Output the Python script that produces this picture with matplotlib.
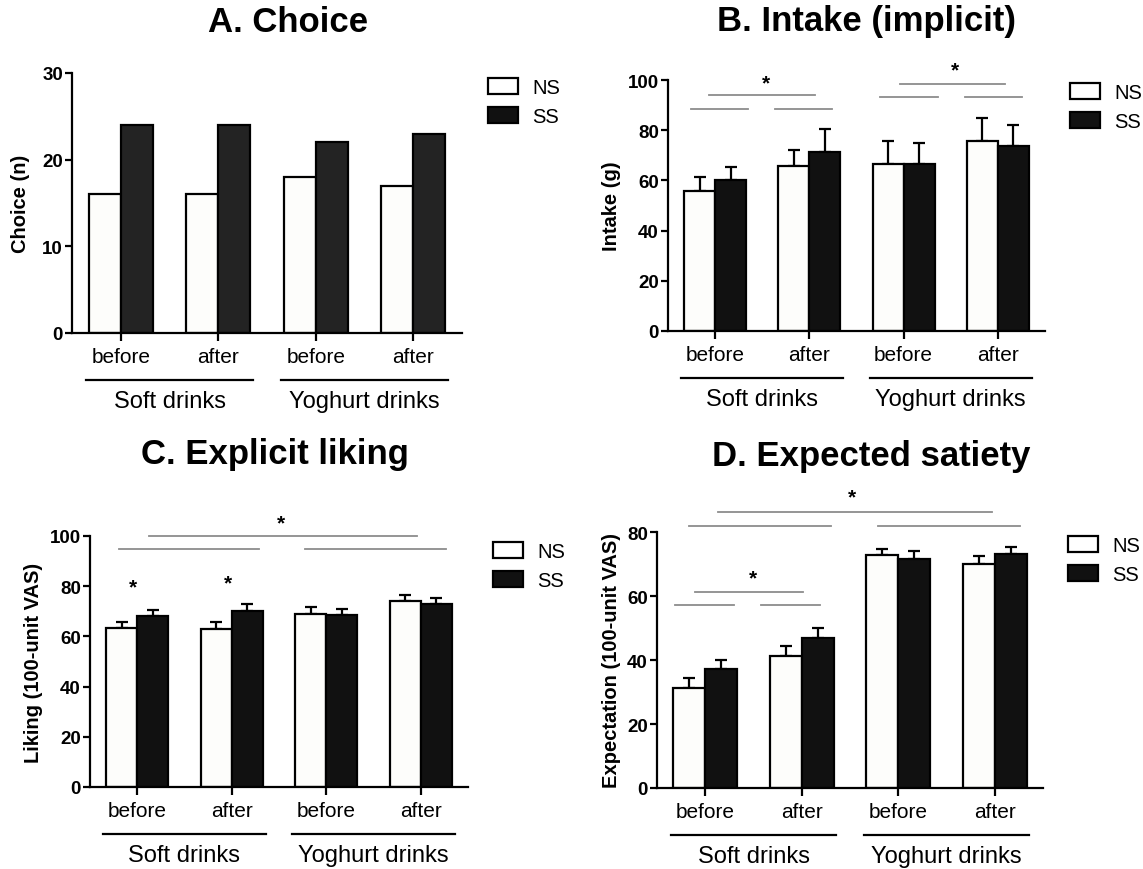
import matplotlib
matplotlib.use("Agg")
import matplotlib.pyplot as plt
import matplotlib.transforms as mtransforms
from matplotlib.patches import Patch
import numpy as np

plt.rcParams['font.family'] = ['Liberation Sans', 'DejaVu Sans']

# ---- data ----
conditions = ["before", "after", "before", "after"]
groups = ["Soft drinks", "Yoghurt drinks"]
series = ["NS", "SS"]

choice_ns = [16, 16, 18, 17]
choice_ss = [24, 24, 22, 23]

intake_ns = [55.6, 65.8, 66.4, 75.8]
intake_ns_err = [5.6, 6.5, 9.1, 9.2]
intake_ss = [60.1, 71.5, 66.4, 73.8]
intake_ss_err = [5.2, 8.8, 8.6, 8.3]

liking_ns = [63.5, 63.1, 69.1, 74.1]
liking_ns_err = [2.4, 2.6, 2.7, 2.4]
liking_ss = [68.1, 70.1, 68.4, 72.8]
liking_ss_err = [2.3, 2.7, 2.6, 2.6]

satiety_ns = [31.3, 41.1, 72.7, 70.1]
satiety_ns_err = [3.0, 3.4, 1.9, 2.3]
satiety_ss = [37.2, 46.9, 71.6, 73.0]
satiety_ss_err = [2.9, 3.2, 2.5, 2.2]

# significance lines (x0, x1, y) and stars (x, y)
sig_lines_b = [(-0.26, 0.35, 88.6), (0.63, 1.24, 88.6), (-0.06, 1.06, 94.0),
               (1.75, 2.37, 93.2), (2.65, 3.26, 93.2), (1.96, 3.08, 98.3)]
stars_b = [(0.54, 101.0), (2.55, 106.0)]
sig_lines_c = [(-0.19, 1.29, 95.0), (1.78, 3.27, 95.0), (0.12, 2.96, 100.0)]
stars_c = [(-0.05, 81.5), (0.96, 83.4), (1.52, 107.3)]
sig_lines_d = [(-0.31, 0.30, 57.1), (0.58, 1.19, 57.1), (-0.11, 1.01, 61.1),
               (-0.17, 1.30, 81.9), (1.79, 3.26, 81.9), (0.13, 2.97, 86.3)]
stars_d = [(0.49, 67.2), (1.52, 92.5)]

W, H = 1143, 870
fig = plt.figure(figsize=(W / 100, H / 100), dpi=100)


def px_axes(l, t, r, b):
    return fig.add_axes([l / W, 1 - b / H, (r - l) / W, (b - t) / H])


def draw_panel(ax, ns, ss, ns_err, ss_err, ymax, ystep, ylabel, ylab_x,
               ss_color='#111111'):
    x = np.arange(len(ns))
    w = 0.33
    ax.bar(x - w / 2, ns, w, color='#fdfdfb', edgecolor='black', linewidth=1.6, zorder=2)
    ax.bar(x + w / 2, ss, w, color=ss_color, edgecolor='black', linewidth=1.6, zorder=2)
    if ns_err is not None:
        ax.errorbar(x - w / 2, ns, yerr=[np.zeros(len(ns)), ns_err], fmt='none',
                    ecolor='black', elinewidth=1.6, capsize=4.5, capthick=1.6, zorder=1)
        ax.errorbar(x + w / 2, ss, yerr=[np.zeros(len(ss)), ss_err], fmt='none',
                    ecolor='black', elinewidth=1.6, capsize=4.5, capthick=1.6, zorder=1)
    ax.set_xlim(-0.5, 3.5)
    ax.set_ylim(0, ymax)
    ax.set_yticks(np.arange(0, ymax + 1, ystep))
    ax.set_xticks(x)
    ax.set_xticklabels(conditions, fontsize=15)
    for s in ['top', 'right']:
        ax.spines[s].set_visible(False)
    for s in ['left', 'bottom']:
        ax.spines[s].set_linewidth(1.6)
    ax.tick_params(axis='y', length=5, width=1.6, pad=1.5, labelsize=13.5)
    ax.tick_params(axis='x', length=6, width=1.6, pad=4)
    for lab in ax.get_yticklabels():
        lab.set_fontweight('bold')
    ax.set_ylabel(ylabel, fontsize=14.5, fontweight='bold')
    ax.yaxis.set_label_coords(ylab_x, 0.5)

    # group underlines and labels below the axis
    line_tr = mtransforms.offset_copy(ax.get_xaxis_transform(), fig=fig, y=-34, units='points')
    text_tr = mtransforms.offset_copy(ax.get_xaxis_transform(), fig=fig, y=-49, units='points')
    for (x0, x1), name in zip([(-0.36, 1.36), (1.64, 3.36)], groups):
        ax.plot([x0, x1], [0, 0], color='black', lw=1.6, transform=line_tr, clip_on=False)
        ax.text((x0 + x1) / 2, 0, name, fontsize=17, ha='center', va='center',
                transform=text_tr)


def draw_sig(ax, lines, stars):
    for x0, x1, y in lines:
        ax.plot([x0, x1], [y, y], color='#8c8c8c', lw=1.3, clip_on=False, zorder=3)
    for x, y in stars:
        ax.annotate('*', xy=(x, y), xytext=(0, -7.5), textcoords='offset points',
                    ha='center', va='baseline', fontsize=15, fontweight='bold',
                    annotation_clip=False)


def draw_legend(ax, x_px, y_px):
    handles = [Patch(facecolor='white', edgecolor='black', linewidth=1.6),
               Patch(facecolor='#111111', edgecolor='black', linewidth=1.6)]
    ax.legend(handles, series, loc='upper left', bbox_to_anchor=(x_px / W, 1 - y_px / H),
              bbox_transform=fig.transFigure, frameon=False, fontsize=14.5,
              handlelength=1.5, handleheight=0.85, handletextpad=0.7,
              labelspacing=0.5, borderpad=0, borderaxespad=0)


# A. Choice
axA = px_axes(72, 74, 462, 334)
draw_panel(axA, choice_ns, choice_ss, None, None, 30, 10, 'Choice (n)', -0.108,
           ss_color='#232323')
draw_legend(axA, 488, 79)
fig.text(288 / W, 1 - 22 / H, 'A. Choice', fontsize=25, fontweight='bold',
         ha='center', va='center')

# B. Intake
axB = px_axes(668, 81, 1045, 332)
draw_panel(axB, intake_ns, intake_ss, intake_ns_err, intake_ss_err, 100, 20,
           'Intake (g)', -0.125)
draw_sig(axB, sig_lines_b, stars_b)
draw_legend(axB, 1070, 84)
fig.text(867 / W, 1 - 22 / H, 'B. Intake (implicit)', fontsize=25, fontweight='bold',
         ha='center', va='center')

# C. Explicit liking
axC = px_axes(90, 537, 468, 788)
draw_panel(axC, liking_ns, liking_ss, liking_ns_err, liking_ss_err, 100, 20,
           'Liking (100-unit VAS)', -0.124)
draw_sig(axC, sig_lines_c, stars_c)
draw_legend(axC, 493, 543)
fig.text(275 / W, 1 - 455 / H, 'C. Explicit liking', fontsize=25, fontweight='bold',
         ha='center', va='center')

# D. Expected satiety
axD = px_axes(657, 533, 1043, 789)
draw_panel(axD, satiety_ns, satiety_ss, satiety_ns_err, satiety_ss_err, 80, 20,
           'Expectation (100-unit VAS)', -0.093)
draw_sig(axD, sig_lines_d, stars_d)
draw_legend(axD, 1068, 537)
fig.text(871 / W, 1 - 457 / H, 'D. Expected satiety', fontsize=25, fontweight='bold',
         ha='center', va='center')

fig.savefig('out.png', dpi=100)
